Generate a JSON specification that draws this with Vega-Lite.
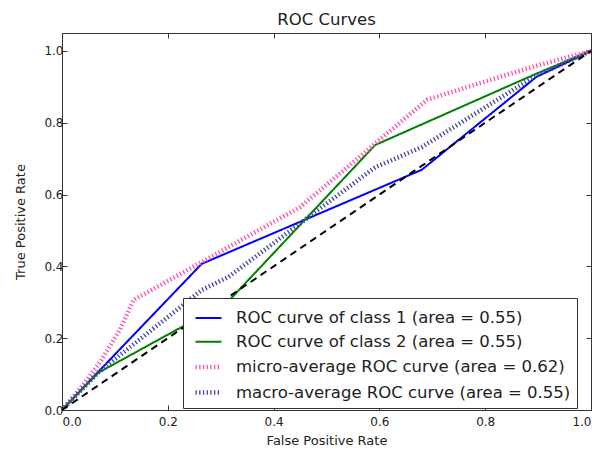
{
  "$schema": "https://vega.github.io/schema/vega-lite/v6.json",
  "width": 529,
  "height": 377,
  "autosize": {"type": "none"},
  "padding": {"left": 62, "top": 33, "right": 17, "bottom": 40},
  "title": {"text": "ROC Curves", "fontSize": 16.5, "font": "DejaVu Sans", "fontWeight": "normal", "color": "#222", "offset": 4, "anchor": "middle"},
  "config": {
    "font": "DejaVu Sans",
    "view": {"stroke": "#333", "strokeWidth": 1},
    "axis": {
      "grid": false, "domain": false, "tickSize": -5, "tickColor": "#333", "tickWidth": 1,
      "labelFont": "DejaVu Sans", "labelFontSize": 12, "labelColor": "#222",
      "titleFont": "DejaVu Sans", "titleFontSize": 13, "titleFontWeight": "normal", "titleColor": "#222"
    },
    "legend": {
      "labelFont": "DejaVu Sans", "labelFontSize": 16.5, "labelColor": "#222", "labelLimit": 450
    }
  },
  "datasets": {
    "curves": [
      {"series": "ROC curve of class 1 (area = 0.55)", "fpr": 0, "tpr": 0},
      {"series": "ROC curve of class 1 (area = 0.55)", "fpr": 0.069, "tpr": 0.107},
      {"series": "ROC curve of class 1 (area = 0.55)", "fpr": 0.264, "tpr": 0.407},
      {"series": "ROC curve of class 1 (area = 0.55)", "fpr": 0.68, "tpr": 0.669},
      {"series": "ROC curve of class 1 (area = 0.55)", "fpr": 0.897, "tpr": 0.928},
      {"series": "ROC curve of class 1 (area = 0.55)", "fpr": 1, "tpr": 1},
      {"series": "ROC curve of class 2 (area = 0.55)", "fpr": 0, "tpr": 0},
      {"series": "ROC curve of class 2 (area = 0.55)", "fpr": 0.069, "tpr": 0.104},
      {"series": "ROC curve of class 2 (area = 0.55)", "fpr": 0.314, "tpr": 0.302},
      {"series": "ROC curve of class 2 (area = 0.55)", "fpr": 0.592, "tpr": 0.738},
      {"series": "ROC curve of class 2 (area = 0.55)", "fpr": 0.891, "tpr": 0.933},
      {"series": "ROC curve of class 2 (area = 0.55)", "fpr": 1, "tpr": 1},
      {"series": "micro-average ROC curve (area = 0.62)", "fpr": 0, "tpr": 0},
      {"series": "micro-average ROC curve (area = 0.62)", "fpr": 0.04, "tpr": 0.07},
      {"series": "micro-average ROC curve (area = 0.62)", "fpr": 0.075, "tpr": 0.14},
      {"series": "micro-average ROC curve (area = 0.62)", "fpr": 0.11, "tpr": 0.225},
      {"series": "micro-average ROC curve (area = 0.62)", "fpr": 0.135, "tpr": 0.306},
      {"series": "micro-average ROC curve (area = 0.62)", "fpr": 0.45, "tpr": 0.565},
      {"series": "micro-average ROC curve (area = 0.62)", "fpr": 0.69, "tpr": 0.864},
      {"series": "micro-average ROC curve (area = 0.62)", "fpr": 0.8, "tpr": 0.915},
      {"series": "micro-average ROC curve (area = 0.62)", "fpr": 0.9, "tpr": 0.96},
      {"series": "micro-average ROC curve (area = 0.62)", "fpr": 1, "tpr": 1},
      {"series": "macro-average ROC curve (area = 0.55)", "fpr": 0, "tpr": 0},
      {"series": "macro-average ROC curve (area = 0.55)", "fpr": 0.069, "tpr": 0.105},
      {"series": "macro-average ROC curve (area = 0.55)", "fpr": 0.264, "tpr": 0.334},
      {"series": "macro-average ROC curve (area = 0.55)", "fpr": 0.314, "tpr": 0.37},
      {"series": "macro-average ROC curve (area = 0.55)", "fpr": 0.592, "tpr": 0.676},
      {"series": "macro-average ROC curve (area = 0.55)", "fpr": 0.68, "tpr": 0.732},
      {"series": "macro-average ROC curve (area = 0.55)", "fpr": 0.891, "tpr": 0.927},
      {"series": "macro-average ROC curve (area = 0.55)", "fpr": 0.897, "tpr": 0.932},
      {"series": "macro-average ROC curve (area = 0.55)", "fpr": 1, "tpr": 1}
    ],
    "diag": [
      {"fpr": 0, "tpr": 0},
      {"fpr": 1, "tpr": 1}
    ]
  },
  "layer": [
    {
      "data": {"name": "curves"},
      "mark": {"type": "line", "strokeCap": "butt", "clip": true},
      "encoding": {
        "x": {"field": "fpr", "type": "quantitative", "scale": {"domain": [0, 1], "nice": false, "zero": false},
              "axis": {"orient": "bottom", "title": "False Positive Rate", "values": [0, 0.2, 0.4, 0.6, 0.8, 1.0], "format": ".1f", "labelPadding": 11, "titlePadding": 7}},
        "y": {"field": "tpr", "type": "quantitative", "scale": {"domain": [0, 1.05], "nice": false, "zero": false},
              "axis": {"orient": "left", "title": "True Positive Rate", "values": [0, 0.2, 0.4, 0.6, 0.8, 1.0], "format": ".1f", "labelPadding": 4, "titlePadding": 16}},
        "color": {"field": "series", "type": "nominal",
                  "scale": {"domain": ["ROC curve of class 1 (area = 0.55)", "ROC curve of class 2 (area = 0.55)", "micro-average ROC curve (area = 0.62)", "macro-average ROC curve (area = 0.55)"],
                            "range": ["#0000ff", "#008000", "#ff4fb2", "#4343a3"]},
                  "legend": {"title": null, "orient": "none", "legendX": 121, "legendY": 265, "symbolType": "stroke", "symbolSize": 676,
                             "fillColor": "#ffffff", "strokeColor": "#333", "padding": 6, "symbolOffset": 4, "labelOffset": 12, "rowPadding": 0.7, "cornerRadius": 0}},
        "strokeDash": {"field": "series", "type": "nominal",
                       "scale": {"domain": ["ROC curve of class 1 (area = 0.55)", "ROC curve of class 2 (area = 0.55)", "micro-average ROC curve (area = 0.62)", "macro-average ROC curve (area = 0.55)"],
                                 "range": [[1, 0], [1, 0], [1.3, 2.4], [1.3, 2.4]]},
                       "legend": {"title": null}},
        "strokeWidth": {"field": "series", "type": "nominal",
                        "scale": {"type": "ordinal", "domain": ["ROC curve of class 1 (area = 0.55)", "ROC curve of class 2 (area = 0.55)", "micro-average ROC curve (area = 0.62)", "macro-average ROC curve (area = 0.55)"],
                                  "range": [2, 2, 4.5, 4.5]},
                        "legend": {"title": null}}
      }
    },
    {
      "data": {"name": "diag"},
      "mark": {"type": "line", "color": "#000000", "strokeWidth": 2, "strokeDash": [7, 5], "strokeCap": "butt"},
      "encoding": {
        "x": {"field": "fpr", "type": "quantitative", "scale": {"domain": [0, 1], "nice": false, "zero": false},
              "axis": {"orient": "top", "title": null, "labels": false, "values": [0, 0.2, 0.4, 0.6, 0.8, 1.0]}},
        "y": {"field": "tpr", "type": "quantitative", "scale": {"domain": [0, 1.05], "nice": false, "zero": false},
              "axis": {"orient": "right", "title": null, "labels": false, "values": [0, 0.2, 0.4, 0.6, 0.8, 1.0]}}
      }
    }
  ],
  "resolve": {"axis": {"x": "independent", "y": "independent"}}
}
